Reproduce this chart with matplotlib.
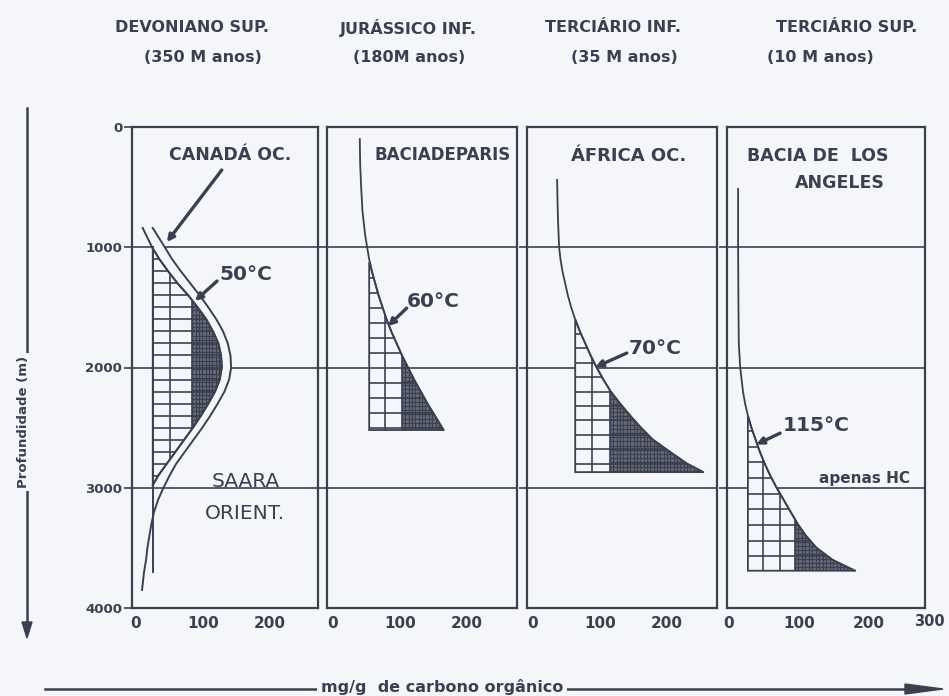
import numpy as np
import matplotlib.pyplot as plt
from matplotlib.patches import Polygon
from matplotlib.collections import LineCollection
import matplotlib.transforms as mtransforms

INK = '#3b4051'
PAPER = '#f5f6f9'

plt.rcParams['font.family'] = ['DejaVu Sans']

# --- Devoniano sup.: Canada oc. (faixa) e Saara orient. ---
canada_depth = [840, 1000, 1100, 1200, 1300, 1400, 1500, 1600, 1700, 1800, 1900,
                2000, 2100, 2200, 2300, 2400, 2500, 2600, 2700, 2800, 2900, 2980]
canada_inner = [10, 24, 35, 48, 62, 78, 92, 105, 115, 123, 127,
                128, 125, 118, 108, 97, 85, 72, 59, 46, 33, 25]
saara_depth = [840, 1000, 1100, 1200, 1300, 1400, 1500, 1600, 1700, 1800, 1900,
               2000, 2100, 2200, 2300, 2400, 2500, 2600, 2700, 2800, 2900, 3000,
               3100, 3200, 3300, 3400, 3500, 3600, 3700, 3850]
saara_outer = [25, 43, 54, 67, 81, 95, 108, 120, 130, 137, 141,
               142, 139, 132, 122, 111, 99, 86, 73, 60, 50, 41,
               33, 27, 23, 20, 17, 15, 12, 9]
devon_base = 25
devon_base_span = [1000, 3700]

# --- Jurassico inf.: Bacia de Paris ---
paris_depth = [100, 300, 500, 700, 900, 1000, 1100, 1200, 1300, 1400, 1500, 1600,
               1700, 1800, 1900, 2000, 2100, 2200, 2300, 2400, 2520]
paris_val = [40, 40.5, 42, 44, 48, 51, 54, 58, 63, 68, 74, 80,
             87, 95, 103, 112, 121, 131, 141, 152, 165]

# --- Terciario inf.: Africa oc. ---
africa_depth = [440, 600, 800, 1000, 1100, 1200, 1300, 1400, 1500, 1600, 1700,
                1800, 1900, 2000, 2100, 2200, 2300, 2400, 2500, 2600, 2700, 2800, 2870]
africa_val = [36, 36.5, 37.5, 39, 41, 44, 48, 52, 57, 63, 70,
              78, 86, 95, 105, 116, 130, 145, 161, 179, 204, 230, 254]

# --- Terciario sup.: Bacia de Los Angeles ---
la_depth = [515, 1000, 1500, 1800, 2000, 2100, 2200, 2300, 2400, 2500, 2600, 2700,
            2800, 2900, 3000, 3100, 3200, 3300, 3400, 3500, 3600, 3690]
la_val = [13, 13, 13.5, 14, 16, 18, 20, 23, 27, 32, 38, 44,
          51, 59, 68, 78, 88, 98, 110, 125, 148, 180]

# janela de geracao: base, topo, fundo, divisoes das colunas, inicio da zona densa
windows = [
    dict(base=25, top=1000, bottom=2980, cols=[51, 84], dense=84, step=100),
    dict(base=54, top=1130, bottom=2520, cols=[78, 103], dense=103, step=125),
    dict(base=63, top=1600, bottom=2870, cols=[88, 115], dense=115, step=120),
    dict(base=27, top=2400, bottom=3690, cols=[49, 73, 94], dense=94, step=130),
]

headers = [("DEVONIANO SUP.", "(350 M anos)"),
           ("JURÁSSICO INF.", "(180M anos)"),
           ("TERCIÁRIO INF.", "(35 M anos)"),
           ("TERCIÁRIO SUP.", "(10 M anos)")]

temps = ["50°C", "60°C", "70°C", "115°C"]

W, H = 949, 696
fig = plt.figure(figsize=(W / 100, H / 100), dpi=100, facecolor=PAPER)

# panel frames in pixels: left, right ; x of value 0 and px per unit
frames = [(132, 318, 136, 0.67), (327, 517, 333, 0.67),
          (527, 717, 533, 0.67), (727, 925, 729, 0.70)]
top_px, bot_px = 127, 608

axes = []
for left, right, x0, s in frames:
    ax = fig.add_axes([left / W, 1 - bot_px / H, (right - left) / W, (bot_px - top_px) / H])
    ax.set_facecolor(PAPER)
    ax.set_xlim((left - x0) / s, (right - x0) / s)
    ax.set_ylim(4000, 0)
    for sp in ax.spines.values():
        sp.set_color(INK)
        sp.set_linewidth(1.6)
    for d in (1000, 2000, 3000):
        ax.axhline(d, color=INK, lw=1.2, zorder=1)
    ax.set_xticks([0, 100, 200])
    ax.set_xticklabels(["0", "100", "200"], fontweight='bold', fontsize=11, color=INK)
    ax.tick_params(axis='x', length=0, pad=6)
    ax.set_yticks([1000, 2000, 3000])
    ax.tick_params(axis='y', length=6, width=1.2, color=INK, direction='out')
    ax.set_yticklabels([])
    axes.append(ax)

axes[0].set_yticks([0, 1000, 2000, 3000, 4000])
axes[0].set_yticklabels(["0", "1000", "2000", "3000", "4000"], fontweight='bold',
                        fontsize=9.5, color=INK)
axes[0].tick_params(axis='y', length=6, pad=1)


def draw_window(ax, depth, val, w):
    depth = np.asarray(depth, float)
    val = np.asarray(val, float)
    inside = (depth > w['top']) & (depth < w['bottom'])
    d_edge = np.concatenate([[w['top']], depth[inside], [w['bottom']]])
    x_edge = np.interp(d_edge, depth, val)
    pts = np.column_stack([x_edge, d_edge])
    pts = np.vstack([pts, [w['base'], w['bottom']], [w['base'], w['top']]])
    poly = Polygon(pts, closed=True, facecolor=PAPER, edgecolor=INK, lw=1.3, zorder=2)
    ax.add_patch(poly)
    xmax = x_edge.max()
    # dense zone
    dense = Polygon([[w['dense'], w['top']], [xmax + 5, w['top']],
                     [xmax + 5, w['bottom']], [w['dense'], w['bottom']]],
                    closed=True, facecolor=INK, alpha=0.75, lw=0, zorder=2.5)
    ax.add_patch(dense)
    dense.set_clip_path(poly)
    segs = [[(w['dense'], d), (xmax + 5, d)] for d in np.arange(w['top'], w['bottom'], 35)]
    segs += [[(x, w['top']), (x, w['bottom'])] for x in np.arange(w['dense'], xmax + 5, 5)]
    lc = LineCollection(segs, colors=INK, lw=0.9, zorder=2.6)
    ax.add_collection(lc)
    lc.set_clip_path(poly)
    # coarse hatch
    segs = [[(w['base'], d), (xmax + 5, d)] for d in np.arange(w['top'], w['bottom'], w['step'])]
    segs += [[(x, w['top']), (x, w['bottom'])] for x in w['cols']]
    lc = LineCollection(segs, colors=INK, lw=1.2, zorder=3)
    ax.add_collection(lc)
    lc.set_clip_path(poly)


# panel 1: Canada / Saara band
ax = axes[0]
outer_on_inner = np.interp(canada_depth, saara_depth, saara_outer)
ax.fill_betweenx(canada_depth, canada_inner, outer_on_inner, color=PAPER, lw=0, zorder=2)
draw_window(ax, canada_depth, canada_inner, windows[0])
ax.plot(canada_inner, canada_depth, color=INK, lw=1.4, zorder=4)
ax.plot(saara_outer, saara_depth, color=INK, lw=1.4, zorder=4)
ax.plot([devon_base, devon_base], devon_base_span, color=INK, lw=1.4, zorder=4)

curves = [(paris_depth, paris_val), (africa_depth, africa_val), (la_depth, la_val)]
for ax, (dep, val), w in zip(axes[1:], curves, windows[1:]):
    draw_window(ax, dep, val, w)
    ax.plot(val, dep, color=INK, lw=1.3, zorder=4)

arrow = dict(arrowstyle='-|>', color=INK, lw=2.4, mutation_scale=10, shrinkA=0, shrinkB=0)
lab = dict(color=INK, fontweight='bold')

axes[0].text(140, 233, "CANADÁ OC.", ha='center', va='center', fontsize=12.5, **lab)
axes[0].annotate("", xy=(46, 957), xytext=(128, 358), arrowprops=arrow, zorder=5)
axes[0].text(163, 2945, "SAARA", ha='center', va='center', fontsize=14.5, color=INK)
axes[0].text(163, 3211, "ORIENT.", ha='center', va='center', fontsize=14.5, color=INK)

axes[1].text(163, 233, "BACIADEPARIS", ha='center', va='center', fontsize=12, **lab)
axes[2].text(143, 241, "ÁFRICA OC.", ha='center', va='center', fontsize=13, **lab)
axes[3].text(127, 241, "BACIA DE  LOS", ha='center', va='center', fontsize=12.5, **lab)
axes[3].text(158, 466, "ANGELES", ha='center', va='center', fontsize=12.5, **lab)
axes[3].text(193, 2920, "apenas HC", ha='center', va='center', fontsize=11, **lab)

temp_pos = [((125, 1223), (121, 1281), (88, 1447)),
            ((110, 1448), (110, 1506), (82, 1656)),
            ((142, 1839), (140, 1880), (93, 1997)),
            ((77, 2479), (73, 2546), (39, 2640))]
for ax, t, (tp, tail, tip) in zip(axes, temps, temp_pos):
    ax.text(tp[0], tp[1], t, ha='left', va='center', fontsize=14.5, fontweight='semibold',
            color=INK)
    ax.annotate("", xy=tip, xytext=tail, arrowprops=arrow, zorder=5)

# extra 300 tick on the last panel
trans = mtransforms.blended_transform_factory(axes[3].transData, axes[3].transAxes)
axes[3].text(286, -0.0125, "300", transform=trans, ha='center', va='top',
             fontsize=10.5, clip_on=False, **lab)

# headers
head_pos = [(192, 203), (408, 409), (613, 624), (847, 820)]
for (h1, h2), (x1, x2) in zip(headers, head_pos):
    fig.text(x1 / W, 1 - 28 / H, h1, ha='center', va='center', fontsize=11.5, **lab)
    fig.text(x2 / W, 1 - 58 / H, h2, ha='center', va='center', fontsize=11.5, **lab)

# depth axis arrow
fig.add_artist(plt.Line2D([27 / W, 27 / W], [1 - 108 / H, 1 - 628 / H], color=INK, lw=1.8))
fig.patches.append(plt.Polygon([[22 / W, 1 - 622 / H], [32 / W, 1 - 622 / H], [27 / W, 1 - 638 / H]],
                               closed=True, color=INK, transform=fig.transFigure, figure=fig))
fig.text(24 / W, 1 - 422 / H, "Profundidade (m)", rotation=90, ha='center', va='center',
         fontsize=9.5, bbox=dict(facecolor=PAPER, edgecolor='none', pad=2), **lab)

# carbon axis arrow
fig.add_artist(plt.Line2D([45 / W, 915 / W], [1 - 689 / H, 1 - 689 / H], color=INK, lw=1.8))
fig.patches.append(plt.Polygon([[905 / W, 1 - 684 / H], [905 / W, 1 - 694 / H], [943 / W, 1 - 689 / H]],
                               closed=True, color=INK, transform=fig.transFigure, figure=fig))
fig.text(442 / W, 1 - 687 / H, "mg/g  de carbono orgânico", ha='center', va='center',
         fontsize=11.5, bbox=dict(facecolor=PAPER, edgecolor='none', pad=3), **lab)

fig.savefig("out.png", dpi=100, facecolor=PAPER)
